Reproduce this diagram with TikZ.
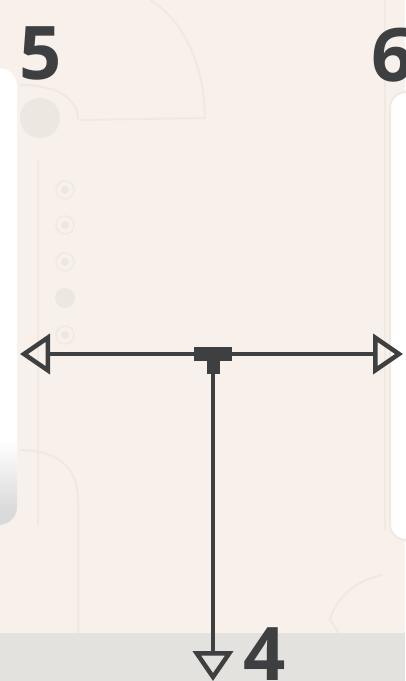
\documentclass[tikz,border=0pt]{standalone}
\usepackage{fontspec}
\setmainfont{Open Sans}
\usetikzlibrary{arrows.meta}
\definecolor{bgcream}{HTML}{F8F1EB}
\definecolor{deco}{HTML}{F0E9E2}
\definecolor{decofill}{HTML}{EDE7E2}
\definecolor{ink}{HTML}{3E3F40}
\definecolor{band}{HTML}{E4E2DF}
\definecolor{panelshadow}{HTML}{DADADA}
\tikzset{
  decoline/.style={draw=deco, line width=2pt},
  conn/.style={draw=ink, line width=4pt},
  opentip/.style={-{Triangle[open, length=30pt, width=40pt, line width=4.5pt]}},
  numlabel/.style={text=ink, font=\bfseries\fontsize{74}{74}\selectfont, inner sep=0pt, anchor=base},
}
\begin{document}
\begin{tikzpicture}[x=1pt,y=-1pt]
\useasboundingbox (0,0) rectangle (405,681);
\fill[bgcream] (0,0) rectangle (405,681);
% faint background decorations
\draw[decoline] (150,0) .. controls (185,20) and (205,70) .. (205,118) -- (80,120);
\draw[decoline] (20,85) .. controls (60,85) and (78,100) .. (78,120);
\fill[decofill] (40,118) circle (20);
\draw[decoline] (38,160) -- (38,525);
\foreach \yy in {190,225,262,335} {
  \draw[deco, line width=1.5pt] (65,\yy) circle (9);
  \fill[decofill] (65,\yy) circle (4);
}
\fill[decofill] (65,298) circle (10);
\draw[decoline] (20,450) .. controls (60,450) and (78,470) .. (78,500) -- (78,681);
\draw[decoline] (385,0) -- (385,530);
\draw[decoline] (382,575) .. controls (355,580) and (335,600) .. (330,620) .. controls (345,640) and (350,660) .. (335,681);
\fill[decofill] (325,652) circle (18);
% bottom band
\fill[band] (0,633) rectangle (405,681);
% left panel
\begin{scope}
  \clip (-30,68) [rounded corners=18] -- (17,68) -- (17,525) -- (-30,525);
  \fill[white] (-30,60) rectangle (20,530);
  \shade[top color=white, bottom color=panelshadow] (-30,440) rectangle (20,510);
  \fill[panelshadow] (-30,510) rectangle (20,530);
\end{scope}
% right panel
\draw[fill=white, draw=deco, line width=2pt, rounded corners=16] (430,92) -- (390,92) -- (390,540) -- (430,540);
% connectors
\coordinate (j) at (213,354);
\coordinate (l) at (20,354);
\coordinate (r) at (403,354);
\coordinate (s) at (213,372);
\coordinate (b) at (213,681);
\draw[conn, opentip] (j) -- (l);
\draw[conn, opentip] (j) -- (r);
\draw[conn, opentip] (s) -- (b);
\node[fill=ink, minimum width=38pt, minimum height=14pt, inner sep=0pt] (tbar) at (213,354) {};
\node[fill=ink, minimum width=13pt, minimum height=13pt, inner sep=0pt, anchor=north] (tstem) at (tbar.south) {};
% labels
\node[numlabel] (n5) at (41,79) {5};
\node[numlabel] (n6) at (393,81) {6};
\node[numlabel] (n4) at (265,680) {4};
\end{tikzpicture}
\end{document}
